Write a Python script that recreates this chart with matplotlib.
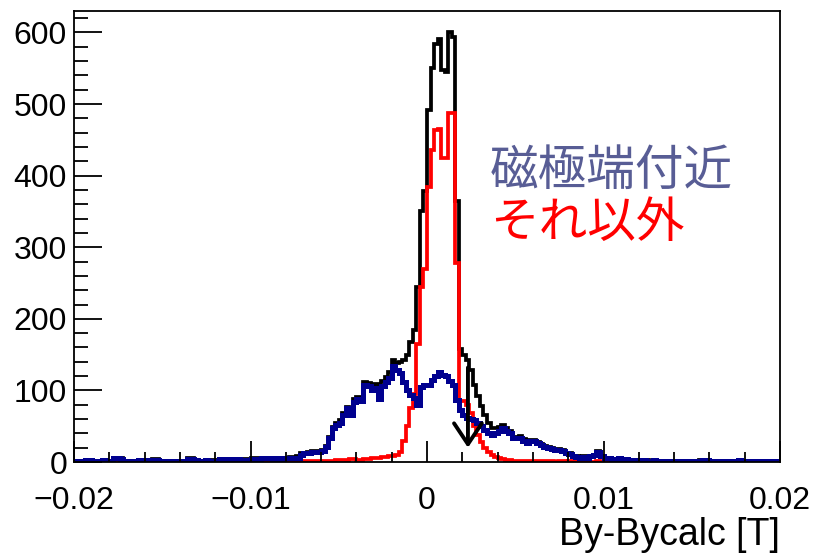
import numpy as np
import matplotlib.pyplot as plt
from matplotlib.ticker import MultipleLocator

# 200 bins from -0.02 to 0.02 T
x_lo, x_hi, n_bins = -0.02, 0.02, 200

# counts near the pole edge (blue)
blue = [
    2, 2, 2, 3, 3, 2, 2, 2, 3, 2,
    2, 5, 5, 4, 2, 2, 2, 2, 3, 3,
    3, 3, 3, 3, 2, 2, 2, 2, 2, 2,
    2, 2, 4, 4, 3, 2, 2, 3, 2, 2,
    2, 4, 4, 4, 4, 4, 4, 3, 3, 3,
    4, 4, 4, 5, 5, 5, 4, 5, 4, 5,
    5, 6, 5, 6, 10, 12, 13, 14, 14, 14,
    15, 21, 33, 47, 52, 55, 66, 75, 66, 84,
    88, 85, 108, 106, 101, 103, 88, 106, 112, 118,
    134, 128, 125, 112, 100, 93, 90, 80, 105, 108,
    108, 115, 120, 126, 122, 120, 113, 107, 87, 73,
    65, 62, 60, 58, 54, 50, 45, 40, 38, 40,
    44, 48, 44, 40, 33, 33, 34, 30, 27, 30,
    29, 27, 24, 21, 20, 18, 17, 17, 16, 13,
    11, 9, 7, 6, 7, 6, 8, 10, 14, 9,
    5, 5, 4, 4, 5, 3, 4, 3, 3, 2,
    3, 3, 2, 2, 3, 2, 2, 2, 1, 2,
    2, 1, 2, 2, 2, 1, 1, 2, 3, 3,
    2, 2, 1, 2, 1, 1, 2, 2, 3, 2,
    2, 1, 1, 2, 2, 1, 1, 2, 2, 1,
]

# everything else (red)
red = [
    0, 0, 0, 0, 0, 0, 0, 0, 0, 0,
    0, 0, 0, 1, 0, 0, 0, 0, 0, 0,
    0, 0, 1, 1, 0, 0, 0, 0, 0, 0,
    0, 0, 1, 1, 0, 0, 0, 0, 0, 1,
    1, 0, 0, 0, 0, 0, 0, 0, 1, 1,
    1, 1, 0, 0, 0, 0, 1, 1, 1, 1,
    1, 1, 2, 2, 2, 1, 1, 2, 2, 2,
    2, 2, 2, 2, 3, 3, 3, 2, 4, 4,
    3, 3, 4, 4, 5, 6, 6, 7, 7, 8,
    9, 10, 14, 30, 50, 75, 95, 165, 245, 270,
    384, 436, 464, 465, 425, 425, 487, 487, 278, 85,
    85, 80, 68, 50, 38, 28, 20, 14, 10, 7,
    5, 4, 3, 3, 2, 2, 2, 2, 1, 1,
    2, 1, 1, 1, 1, 1, 0, 1, 1, 0,
    1, 0, 1, 0, 1, 1, 0, 0, 1, 0,
    0, 1, 0, 0, 0, 1, 0, 0, 0, 1,
    0, 0, 1, 0, 0, 0, 0, 0, 0, 0,
    0, 1, 0, 0, 0, 0, 0, 1, 0, 0,
    0, 0, 0, 0, 0, 0, 0, 0, 0, 0,
    0, 0, 0, 0, 0, 0, 0, 0, 0, 0,
]

blue = np.array(blue)
red = np.array(red)
total = blue + red   # black = all entries
edges = np.linspace(x_lo, x_hi, n_bins + 1)

# arrow marking the cut
arrow_x = 0.00232
arrow_top, arrow_bottom = 132, 20

plt.rcParams['font.family'] = ['Liberation Sans', 'DejaVu Sans']
plt.rcParams['axes.unicode_minus'] = True

fig = plt.figure(figsize=(8.18, 5.56), dpi=100)
ax = fig.add_axes([74 / 818, 94 / 556, 706 / 818, 451 / 556])

ax.stairs(total, edges, baseline=None, color='black', lw=2.7)
ax.stairs(red, edges, baseline=None, color='#ff0000', lw=2.7)
ax.stairs(blue, edges, baseline=None, color='#00008f', lw=3.6)

ax.annotate('', xy=(arrow_x, arrow_bottom), xytext=(arrow_x, arrow_top),
            arrowprops=dict(arrowstyle='->,head_length=1.5,head_width=1.0',
                            color='black', lw=2.8, shrinkA=0, shrinkB=0),
            zorder=5)

ax.set_xlim(x_lo, x_hi)
ax.set_ylim(0, 630)
ax.xaxis.set_major_locator(MultipleLocator(0.01))
ax.xaxis.set_minor_locator(MultipleLocator(0.002))
ax.yaxis.set_major_locator(MultipleLocator(100))
ax.yaxis.set_minor_locator(MultipleLocator(20))
ax.set_xticks([-0.02, -0.01, 0, 0.01, 0.02])
ax.set_xticklabels(['\u22120.02', '\u22120.01', '0', '0.01', '0.02'])

ax.tick_params(axis='both', which='both', direction='in', top=False, right=False,
               labelsize=23, width=1.3)
ax.tick_params(axis='x', which='major', length=15, pad=17)
ax.tick_params(axis='x', which='minor', length=7.5)
ax.tick_params(axis='y', which='major', length=20, pad=5)
ax.tick_params(axis='y', which='minor', length=10)
for s in ax.spines.values():
    s.set_linewidth(1.3)

ax.set_xlabel('By-Bycalc [T]', fontsize=27, loc='right', labelpad=1)

fig.text(490 / 818, 1 - 171 / 556, '磁極端付近', color='#585d95', fontsize=35,
         va='center', family=['Noto Sans CJK JP', 'DejaVu Sans'])
fig.text(490 / 818, 1 - 223 / 556, 'それ以外', color='#ff0000', fontsize=35,
         va='center', family=['Noto Sans CJK JP', 'DejaVu Sans'])

fig.savefig('out.png', dpi=100)
